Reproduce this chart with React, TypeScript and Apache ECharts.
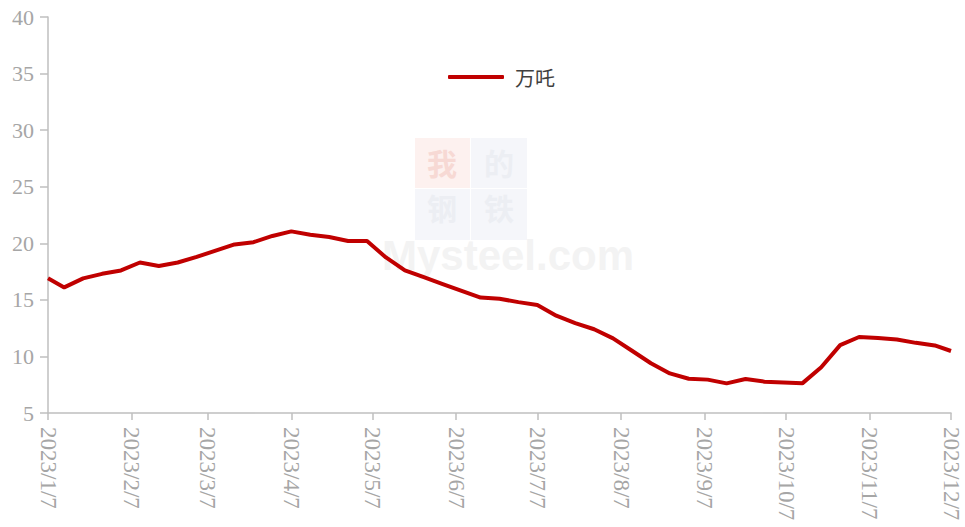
import React, { useEffect, useRef } from "react";
import * as echarts from "echarts";

const dates = [
  "2023/1/7", "2023/1/13", "2023/1/20", "2023/1/27", "2023/2/3", "2023/2/10", "2023/2/17", "2023/2/24",
  "2023/3/3", "2023/3/10", "2023/3/17", "2023/3/24", "2023/3/31", "2023/4/7", "2023/4/14", "2023/4/21",
  "2023/4/28", "2023/5/5", "2023/5/12", "2023/5/19", "2023/5/26", "2023/6/2", "2023/6/9", "2023/6/16",
  "2023/6/23", "2023/6/30", "2023/7/7", "2023/7/14", "2023/7/21", "2023/7/28", "2023/8/4", "2023/8/11",
  "2023/8/18", "2023/8/25", "2023/9/1", "2023/9/8", "2023/9/15", "2023/9/22", "2023/9/29", "2023/10/6",
  "2023/10/13", "2023/10/20", "2023/10/27", "2023/11/3", "2023/11/10", "2023/11/17", "2023/11/24", "2023/12/1",
  "2023/12/7",
];

const values = [
  16.9, 16.1, 16.9, 17.3, 17.6, 18.3, 18.0, 18.3,
  18.8, 19.35, 19.9, 20.1, 20.65, 21.05, 20.75, 20.55,
  20.2, 20.2, 18.75, 17.6, 17.0, 16.4, 15.8, 15.2,
  15.1, 14.8, 14.55, 13.6, 12.95, 12.4, 11.6, 10.5,
  9.4, 8.5, 8.03, 7.95, 7.62, 8.0, 7.77, 7.7,
  7.62, 9.05, 11.0, 11.72, 11.62, 11.5, 11.2, 10.97,
  10.48,
];

const monthTicks = [
  "2023/1/7", "2023/2/7", "2023/3/7", "2023/4/7", "2023/5/7", "2023/6/7",
  "2023/7/7", "2023/8/7", "2023/9/7", "2023/10/7", "2023/11/7", "2023/12/7",
];

const seriesName = "万吒";

const DAY = 86400000;
const startTs = Date.UTC(2023, 0, 7);

function toDay(s: string): number {
  const [y, m, d] = s.split("/").map(Number);
  return Math.round((Date.UTC(y, m - 1, d) - startTs) / DAY);
}

function fmtDay(day: number): string {
  const dt = new Date(startTs + Math.round(day) * DAY);
  return `${dt.getUTCFullYear()}/${dt.getUTCMonth() + 1}/${dt.getUTCDate()}`;
}

export default function App() {
  const ref = useRef<HTMLDivElement>(null);
  useEffect(() => {
    if (!ref.current) return;
    const chart = echarts.init(ref.current, undefined, { renderer: "svg" });
    const tickDays = monthTicks.map(toDay);
    const serif = "'Liberation Serif', 'Times New Roman', serif";
    const cjk = "'Noto Sans CJK SC', sans-serif";
    const wmFont = "bold 30px 'Noto Sans CJK SC'";
    chart.setOption({
      animation: false,
      backgroundColor: "#ffffff",
      grid: { left: 48, right: 14, top: 17, bottom: 114, containLabel: false },
      legend: {
        left: 443,
        top: 62,
        icon: "roundRect",
        itemWidth: 56,
        itemHeight: 4,
        textStyle: { fontSize: 20, color: "#404040", fontFamily: cjk, padding: [0, 0, 0, 6] },
        data: [seriesName],
      },
      graphic: [
        { type: "rect", z: -10, shape: { x: 415, y: 138, width: 55, height: 50 }, style: { fill: "#fdf1ef" }, silent: true },
        { type: "rect", z: -10, shape: { x: 471, y: 138, width: 56, height: 50 }, style: { fill: "#f5f6fa" }, silent: true },
        { type: "rect", z: -10, shape: { x: 415, y: 189, width: 55, height: 51 }, style: { fill: "#f5f6fa" }, silent: true },
        { type: "rect", z: -10, shape: { x: 471, y: 189, width: 56, height: 51 }, style: { fill: "#f5f6fa" }, silent: true },
        { type: "text", z: -9, x: 442, y: 162, style: { text: "我", fill: "#f7d9d4", font: wmFont, align: "center", verticalAlign: "middle" }, silent: true },
        { type: "text", z: -9, x: 499, y: 162, style: { text: "的", fill: "#eceef3", font: wmFont, align: "center", verticalAlign: "middle" }, silent: true },
        { type: "text", z: -9, x: 442, y: 207, style: { text: "钢", fill: "#eceef3", font: wmFont, align: "center", verticalAlign: "middle" }, silent: true },
        { type: "text", z: -9, x: 499, y: 207, style: { text: "铁", fill: "#eceef3", font: wmFont, align: "center", verticalAlign: "middle" }, silent: true },
        { type: "text", z: -9, x: 508, y: 255, style: { text: "Mysteel.com", fill: "#f3f3f3", font: "bold 42px 'Liberation Sans', Arial, sans-serif", align: "center", verticalAlign: "middle" }, silent: true },
      ],
      xAxis: {
        type: "value",
        min: tickDays[0],
        max: tickDays[tickDays.length - 1],
        axisLine: { show: true, lineStyle: { color: "#bfbfbf", width: 1.5 } },
        axisTick: { show: true, length: 7, lineStyle: { color: "#bfbfbf", width: 1.5 }, customValues: tickDays },
        axisLabel: {
          customValues: tickDays,
          rotate: -90,
          margin: 14,
          color: "#a6a6a6",
          fontSize: 23,
          fontFamily: serif,
          formatter: (v: number) => fmtDay(v),
          hideOverlap: false,
        },
        splitLine: { show: false },
      },
      yAxis: {
        type: "value",
        min: 5,
        max: 40,
        interval: 5,
        axisLine: { show: true, lineStyle: { color: "#bfbfbf", width: 1.5 } },
        axisTick: { show: true, length: 8, lineStyle: { color: "#bfbfbf", width: 1.5 } },
        axisLabel: { color: "#a6a6a6", fontSize: 22, fontFamily: serif, margin: 14 },
        splitLine: { show: false },
      },
      series: [
        {
          name: seriesName,
          type: "line",
          showSymbol: false,
          symbol: "none",
          lineStyle: { color: "#c00000", width: 4 },
          itemStyle: { color: "#c00000" },
          data: dates.map((d, i) => [toDay(d), values[i]]),
        },
      ],
    });
    return () => chart.dispose();
  }, []);
  return <div ref={ref} style={{ width: 965, height: 527, position: "absolute", left: 0, top: 0 }} />;
}
